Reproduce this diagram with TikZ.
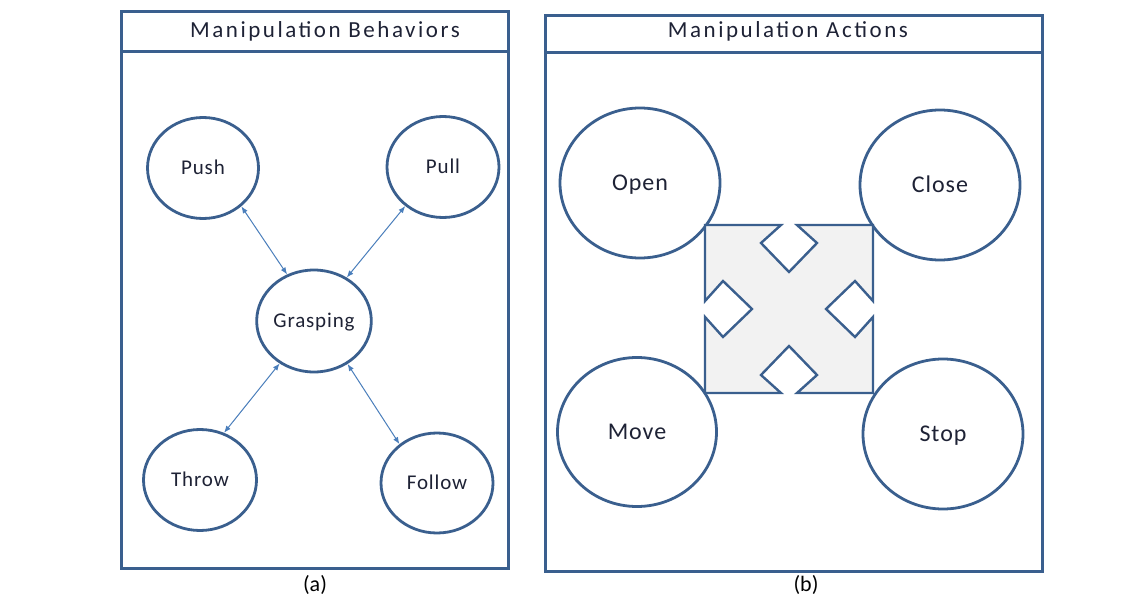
\documentclass[tikz,border=0pt]{standalone}
\usepackage{fontspec}
\setmainfont{Carlito}
\newfontfamily\titlefont[LetterSpace=11]{Carlito}
\newfontfamily\lblfont[LetterSpace=4]{Carlito}
\usetikzlibrary{shapes.geometric,arrows.meta}
\definecolor{frame}{HTML}{3A5F8E}
\definecolor{arrowc}{HTML}{4A7EBB}
\definecolor{txt}{HTML}{1E2235}
\definecolor{fillg}{HTML}{F2F2F2}
\tikzset{
  panel/.style={draw=frame, line width=3pt},
  paneltitle/.style={font=\titlefont\fontsize{23}{26}\selectfont, text=txt, inner sep=0pt},
  bub/.style={ellipse, draw=frame, line width=2.8pt, inner sep=0pt,
    text=txt, text depth=0pt},
  smallbub/.style={bub, font=\lblfont\fontsize{21}{24}\selectfont, text height=13.5pt},
  bigbub/.style={bub, font=\lblfont\fontsize{24}{27}\selectfont, text height=15.5pt},
  link/.style={draw=arrowc, line width=1pt,
    {Latex[length=7pt,width=5.5pt]}-{Latex[length=7pt,width=5.5pt]}},
  caption/.style={font=\fontsize{22}{25}\selectfont, text=black, inner sep=0pt},
  quad/.style={draw=frame, fill=fillg, line width=2.4pt, line join=miter}
}
\begin{document}
\begin{tikzpicture}[x=1pt,y=-1pt]
\useasboundingbox (0,0) rectangle (1140,599);

% ---------- panel (a)
\draw[panel] (121,12) rectangle (508,568);
\draw[panel] (121,52) -- (508,52);
\node[paneltitle] (ta) at (325,31) {Manipulation Behaviors};

\node[smallbub, minimum width=111pt, minimum height=101pt] (push) at (203,168) {Push};
\node[smallbub, minimum width=112pt, minimum height=101pt] (pull) at (443,167) {Pull};
\node[smallbub, minimum width=111pt, minimum height=102pt] (grasp) at (314,321) {Grasping};
\node[smallbub, minimum width=113pt, minimum height=101pt] (throw) at (200,480) {Throw};
\node[smallbub, minimum width=112pt, minimum height=100pt] (follow) at (437,483) {Follow};

\draw[link] (push.-45) -- (grasp.120);
\draw[link] (pull.226) -- (grasp.53);
\draw[link] (throw.63) -- (grasp.231);
\draw[link] (follow.134) -- (grasp.308);

\node[caption] (ca) at (315,585) {(a)};

% ---------- panel (b)
\draw[panel] (545,16) rectangle (1042,571);
\draw[panel] (545,53) -- (1042,53);
\node[paneltitle] (tb) at (788,31) {Manipulation Actions};

\node[bigbub, minimum width=160pt, minimum height=150pt] (open) at (640,183) {Open};
\node[bigbub, minimum width=160pt, minimum height=150pt] (close) at (940,185) {Close};
\node[bigbub, minimum width=159pt, minimum height=149pt] (move) at (637,432) {Move};
\node[bigbub, minimum width=160pt, minimum height=150pt] (stop) at (943,434) {Stop};

\draw[quad] (705,225) -- (781,225) -- (761,243) -- (789,272) -- (817,243) -- (797,225)
  -- (873,225) -- (873,301) -- (855,281) -- (826,309) -- (855,337) -- (873,317)
  -- (873,393) -- (797,393) -- (817,375) -- (789,346) -- (761,375) -- (781,393)
  -- (705,393) -- (705,317) -- (723,337) -- (752,309) -- (723,281) -- (705,301) -- cycle;

\node[caption] (cb) at (806,585) {(b)};
\end{tikzpicture}
\end{document}
